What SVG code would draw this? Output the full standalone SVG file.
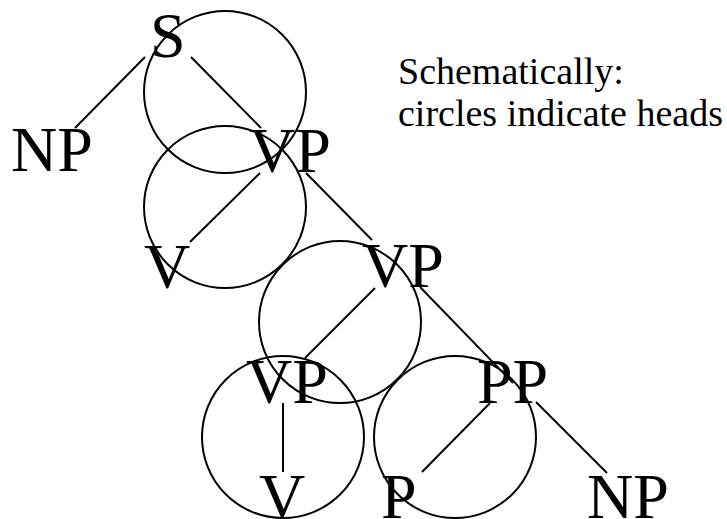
<svg xmlns="http://www.w3.org/2000/svg" width="727" height="519" viewBox="0 0 727 519">
<style>
.lbl{font-family:"Liberation Serif","Times New Roman",serif;font-size:64px;fill:#000}
.note{font-family:"Liberation Serif","Times New Roman",serif;font-size:38px;fill:#000}
.head{fill:none;stroke:#000;stroke-width:2}
.edge{stroke:#000;stroke-width:2;fill:none}
</style>
<rect width="727" height="519" fill="#fff"/>
<g id="heads">
<circle class="head" cx="225" cy="92" r="81"/>
<circle class="head" cx="225" cy="207" r="81"/>
<circle class="head" cx="340" cy="322" r="81"/>
<circle class="head" cx="283" cy="437" r="81"/>
<circle class="head" cx="455" cy="437" r="81"/>
</g>
<g id="connectors">
<line class="edge" x1="145" y1="57" x2="75" y2="128"/>
<line class="edge" x1="191" y1="57" x2="261" y2="128"/>
<line class="edge" x1="260" y1="173" x2="190" y2="242"/>
<line class="edge" x1="306" y1="173" x2="372" y2="240"/>
<line class="edge" x1="375" y1="288" x2="305" y2="358"/>
<line class="edge" x1="420" y1="287" x2="513" y2="383"/>
<line class="edge" x1="283" y1="403" x2="283" y2="472"/>
<line class="edge" x1="490" y1="403" x2="422" y2="472"/>
<line class="edge" x1="536" y1="402" x2="607" y2="473"/>
</g>
<g id="S"><text class="lbl" x="150" y="57">S</text></g>
<g id="NP1"><text class="lbl" x="11" y="171">NP</text></g>
<g id="VP1"><text class="lbl" x="249" y="172">VP</text></g>
<g id="V1"><text class="lbl" x="144" y="288">V</text></g>
<g id="VP2"><text class="lbl" x="362" y="287">VP</text></g>
<g id="VP3"><text class="lbl" x="246" y="403">VP</text></g>
<g id="PP"><text class="lbl" x="477" y="403">PP</text></g>
<g id="V2"><text class="lbl" x="259" y="518">V</text></g>
<g id="P"><text class="lbl" x="381" y="518">P</text></g>
<g id="NP2"><text class="lbl" x="587" y="518">NP</text></g>
<g id="caption">
<text class="note" x="398" y="84">Schematically:</text>
<text class="note" x="398" y="126">circles indicate heads</text>
</g>
</svg>
